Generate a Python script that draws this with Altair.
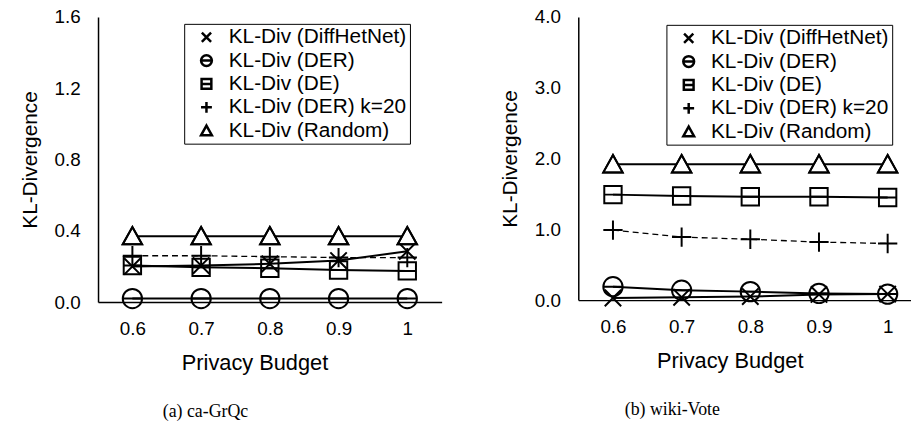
import altair as alt
import pandas as pd

budgets = [0.6, 0.7, 0.8, 0.9, 1.0]
series = ["KL-Div (DiffHetNet)", "KL-Div (DER)", "KL-Div (DE)", "KL-Div (DER) k=20", "KL-Div (Random)"]

grqc_diffhetnet = [0.20, 0.205, 0.215, 0.233, 0.285]
grqc_der = [0.02, 0.02, 0.02, 0.02, 0.02]
grqc_de = [0.205, 0.195, 0.19, 0.18, 0.175]
grqc_der_k20 = [0.26, 0.26, 0.255, 0.25, 0.25]
grqc_random = [0.37, 0.37, 0.37, 0.37, 0.37]

wiki_diffhetnet = [0.03, 0.04, 0.05, 0.08, 0.085]
wiki_der = [0.19, 0.14, 0.12, 0.094, 0.085]
wiki_de = [1.49, 1.47, 1.46, 1.46, 1.45]
wiki_der_k20 = [0.99, 0.89, 0.86, 0.82, 0.80]
wiki_random = [1.92, 1.92, 1.92, 1.92, 1.92]

K20 = "KL-Div (DER) k=20"
RND = "KL-Div (Random)"
FONT = "Liberation Sans"

paths = [
    "M-0.85,-0.85L0.85,0.85M-0.85,0.85L0.85,-0.85",
    "M-1,0A1,1,0,1,1,1,0A1,1,0,1,1,-1,0ZM-1,0L1,0",
    "M-0.9,-0.9L0.9,-0.9L0.9,0.9L-0.9,0.9ZM-0.9,0L0.9,0",
    "M-1,0L1,0M0,-1L0,1",
    "M0,-0.95L1,0.85L-1,0.85Z",
]


def make_df(cols):
    rows = []
    for name, vals in zip(series, cols):
        for b, v in zip(budgets, vals):
            rows.append({"budget": b, "kl": v, "series": name})
    return pd.DataFrame(rows)


def panel(df, ymax, yvals, width, height, xdomain, lx, ly, caption, cdx, tx):
    base = alt.Chart(df)
    x = alt.X(
        "budget:Q",
        scale=alt.Scale(domain=xdomain, nice=False, zero=False),
        axis=alt.Axis(values=budgets, format="~g", title="Privacy Budget", ticks=False, grid=False,
                      domainColor="black", domainWidth=1.5, labelFontSize=19, titleFontSize=22,
                      labelPadding=18, titlePadding=14, labelFont=FONT, titleFont=FONT,
                      labelColor="black", titleColor="black", titleFontWeight="normal",
                      titleX=tx),
    )
    y = alt.Y(
        "kl:Q",
        scale=alt.Scale(domain=[0, ymax], nice=False),
        axis=alt.Axis(values=yvals, format=".1f", title="KL-Divergence", ticks=False, grid=False,
                      domainColor="black", domainWidth=1.5, labelFontSize=19, titleFontSize=21,
                      labelPadding=18, titlePadding=14, labelFont=FONT, titleFont=FONT,
                      labelColor="black", titleColor="black", titleFontWeight="normal"),
    )
    solid = base.transform_filter(alt.datum.series != K20).mark_line(
        color="black", strokeWidth=2).encode(x=x, y=y, detail="series:N")
    dashed = base.transform_filter(alt.datum.series == K20).mark_line(
        color="black", strokeWidth=1.3, strokeDash=[6, 4]).encode(x=x, y=y)
    tri_fill = base.transform_filter(alt.datum.series == RND).mark_point(
        filled=True, fill="white", stroke="black", strokeWidth=2, size=380, opacity=1,
        shape=paths[4]).encode(x=x, y=y)
    points = base.mark_point(filled=False, color="black", strokeWidth=2, size=380, opacity=1).encode(
        x=x, y=y,
        shape=alt.Shape("series:N", scale=alt.Scale(domain=series, range=paths),
                        legend=alt.Legend(title=None, orient="none", legendX=lx, legendY=ly,
                                          strokeColor="black", fillColor="white", padding=3,
                                          symbolSize=120, symbolStrokeWidth=2.5,
                                          symbolStrokeColor="black", symbolFillColor="transparent",
                                          symbolOpacity=1, labelFontSize=21,
                                          labelFont=FONT, labelColor="black", rowPadding=1.6,
                                          symbolOffset=9, labelOffset=12, labelLimit=400)),
    )
    return alt.layer(solid, dashed, tri_fill, points).properties(
        width=width, height=height,
        title=alt.TitleParams(caption, orient="bottom", font="Liberation Serif", fontSize=18,
                              fontWeight="normal", offset=30, dx=cdx, anchor="middle", color="black"),
    )


left = panel(make_df([grqc_diffhetnet, grqc_der, grqc_de, grqc_der_k20, grqc_random]),
             1.6, [0, 0.4, 0.8, 1.2, 1.6], 347, 288, [0.55, 1.05], 87, 7, "(a) ca-GrQc", -65, 158)
right = panel(make_df([wiki_diffhetnet, wiki_der, wiki_de, wiki_der_k20, wiki_random]),
              4.0, [0, 1, 2, 3, 4], 336, 286, [0.5495, 1.034], 89, 8, "(b) wiki-Vote", -73, 153)

chart = alt.hconcat(left, right, spacing=58).resolve_scale(shape="independent").properties(
    padding={"left": 19, "top": 6, "right": 0, "bottom": 0}, background="white"
).configure_view(stroke=None)

chart.save("out.html", embed_options={"renderer": "svg", "actions": False})
